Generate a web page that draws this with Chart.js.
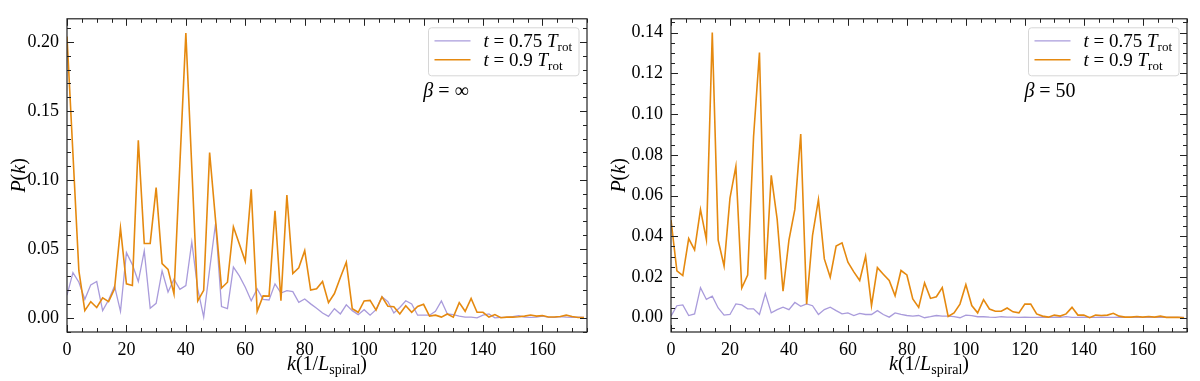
<!DOCTYPE html>
<html>
<head>
<meta charset="utf-8">
<script src="https://cdn.jsdelivr.net/npm/chart.js@4.4.1/dist/chart.umd.min.js"></script>
<style>
  html, body { margin: 0; padding: 0; background: #fff; }
  #wrap { position: relative; width: 1200px; height: 381px; overflow: hidden; }
  .panel { position: absolute; top: 0; width: 600px; height: 381px; }
</style>
</head>
<body>
<div id="wrap">
  <div class="panel" style="left:0"><canvas id="chartInf"></canvas></div>
  <div class="panel" style="left:600px"><canvas id="chart50"></canvas></div>
</div>
<script>
"use strict";

// wavenumber k (1/L_spiral)
const kValues = [
    0, 2, 4, 6, 8, 10, 12, 14, 16, 18, 20, 22, 24, 26, 28, 30, 32, 34, 36, 38,
    40, 42, 44, 46, 48, 50, 52, 54, 56, 58, 60, 62, 64, 66, 68, 70, 72, 74, 76, 78,
    80, 82, 84, 86, 88, 90, 92, 94, 96, 98, 100, 102, 104, 106, 108, 110, 112, 114, 116, 118,
    120, 122, 124, 126, 128, 130, 132, 134, 136, 138, 140, 142, 144, 146, 148, 150, 152, 154, 156, 158,
    160, 162, 164, 166, 168, 170, 172, 174
];

const timeLabels = ['0.75', '0.9'];
const betaLabels = ['\u221E', '50'];

// beta = inf
const infEarly = [
    0.0164, 0.0328, 0.0258, 0.0134, 0.0239, 0.0263, 0.0052, 0.0129, 0.0230, 0.0047,
    0.0473, 0.0386, 0.0263, 0.0485, 0.0070, 0.0105, 0.0340, 0.0187, 0.0281, 0.0206,
    0.0234, 0.0550, 0.0210, 0.0005, 0.0351, 0.0684, 0.0082, 0.0066, 0.0368, 0.0304,
    0.0222, 0.0124, 0.0210, 0.0134, 0.0129, 0.0246, 0.0180, 0.0197, 0.0190, 0.0112,
    0.0136, 0.0101, 0.0070, 0.0035, 0.0010, 0.0066, 0.0028, 0.0094, 0.0052, 0.0023,
    0.0059, 0.0019, 0.0059, 0.0152, 0.0117, 0.0035, 0.0075, 0.0124, 0.0100, 0.0019,
    0.0019, 0.0019, 0.0047, 0.0122, 0.0028, 0.0023, 0.0012, 0.0005, 0.0005, 0.0000,
    0.0019, 0.0028, 0.0000, 0.0003, 0.0003, 0.0008, 0.0016, 0.0005, 0.0003, 0.0005,
    0.0012, 0.0005, 0.0003, 0.0008, 0.0005, 0.0003, 0.0005, 0.0003
];
const infLate = [
    0.2040, 0.1190, 0.0340, 0.0052, 0.0117, 0.0075, 0.0145, 0.0117, 0.0210, 0.0650,
    0.0246, 0.0234, 0.1288, 0.0539, 0.0540, 0.0944, 0.0393, 0.0351, 0.0173, 0.1120,
    0.2065, 0.1090, 0.0122, 0.0199, 0.1199, 0.0707, 0.0216, 0.0258, 0.0660, 0.0535,
    0.0410, 0.0932, 0.0047, 0.0159, 0.0157, 0.0777, 0.0124, 0.0890, 0.0321, 0.0363,
    0.0487, 0.0201, 0.0210, 0.0263, 0.0110, 0.0176, 0.0293, 0.0403, 0.0066, 0.0040,
    0.0122, 0.0126, 0.0056, 0.0152, 0.0084, 0.0080, 0.0028, 0.0087, 0.0040, 0.0082,
    0.0098, 0.0012, 0.0019, 0.0005, 0.0028, 0.0005, 0.0110, 0.0047, 0.0140, 0.0040,
    0.0040, 0.0005, 0.0023, 0.0000, 0.0005, 0.0005, 0.0008, 0.0012, 0.0020, 0.0012,
    0.0016, 0.0006, 0.0006, 0.0010, 0.0019, 0.0010, 0.0002, 0.0002
];

// beta = 50
const b50Early = [
    0.0008, 0.0059, 0.0063, 0.0011, 0.0019, 0.0148, 0.0090, 0.0106, 0.0048, 0.0013,
    0.0016, 0.0068, 0.0063, 0.0044, 0.0044, 0.0016, 0.0119, 0.0024, 0.0040, 0.0052,
    0.0040, 0.0075, 0.0056, 0.0068, 0.0059, 0.0016, 0.0040, 0.0052, 0.0035, 0.0019,
    0.0024, 0.0011, 0.0021, 0.0016, 0.0016, 0.0035, 0.0016, 0.0003, 0.0024, 0.0016,
    0.0011, 0.0008, 0.0011, 0.0000, 0.0005, 0.0011, 0.0008, 0.0008, 0.0006, 0.0000,
    0.0013, 0.0010, 0.0005, 0.0005, 0.0003, 0.0002, 0.0005, 0.0003, 0.0003, 0.0002,
    0.0003, 0.0002, 0.0002, 0.0003, 0.0002, 0.0003, 0.0002, 0.0005, 0.0002, 0.0002,
    0.0003, 0.0002, 0.0002, 0.0003, 0.0002, 0.0002, 0.0003, 0.0002, 0.0002, 0.0002,
    0.0002, 0.0002, 0.0002, 0.0003, 0.0002, 0.0002, 0.0002, 0.0002
];
const b50Late = [
    0.0480, 0.0230, 0.0207, 0.0389, 0.0333, 0.0532, 0.0384, 0.1400, 0.0381, 0.0254,
    0.0587, 0.0743, 0.0146, 0.0210, 0.0889, 0.1302, 0.0188, 0.0699, 0.0484, 0.0130,
    0.0381, 0.0532, 0.0902, 0.0067, 0.0405, 0.0580, 0.0289, 0.0199, 0.0352, 0.0368,
    0.0273, 0.0225, 0.0183, 0.0302, 0.0060, 0.0246, 0.0214, 0.0183, 0.0108, 0.0232,
    0.0210, 0.0092, 0.0051, 0.0171, 0.0095, 0.0103, 0.0148, 0.0006, 0.0024, 0.0067,
    0.0163, 0.0060, 0.0024, 0.0089, 0.0043, 0.0032, 0.0032, 0.0048, 0.0029, 0.0024,
    0.0067, 0.0067, 0.0019, 0.0008, 0.0003, 0.0013, 0.0008, 0.0019, 0.0051, 0.0013,
    0.0013, 0.0000, 0.0013, 0.0011, 0.0013, 0.0022, 0.0008, 0.0003, 0.0003, 0.0006,
    0.0003, 0.0006, 0.0003, 0.0008, 0.0002, 0.0002, 0.0002, 0.0000
];

const SERIF = '"Liberation Serif", "DejaVu Serif", serif';
const EARLY_COLOR = '#a99bdb';
const LATE_COLOR = '#e5890f';

function fnt(size, italic) {
    return (italic ? 'italic ' : '') + size + 'px ' + SERIF;
}

// draws a run of [text, font, dy] parts; returns its width
function drawParts(ctx, parts, x, y, align) {
    let total = 0;
    parts.forEach(p => { ctx.font = p[1]; total += ctx.measureText(p[0]).width; });
    if (align !== 'measure') {
        let cx = align === 'center' ? x - total / 2 : x;
        parts.forEach(p => {
            ctx.font = p[1];
            ctx.fillText(p[0], cx, y + (p[2] || 0));
            cx += ctx.measureText(p[0]).width;
        });
    }
    return total;
}

function timeParts(t) {
    return [['t', fnt(19, true)], [' = ' + t + ' ', fnt(19)], ['T', fnt(19, true)], ['rot', fnt(13), 4]];
}

// frame, inward ticks, axis titles, legend and beta note
const decorPlugin = {
    id: 'decor',
    afterDraw(chart, args, opts) {
        const ctx = chart.ctx, a = chart.chartArea;
        const x = chart.scales.x, y = chart.scales.y;
        ctx.save();
        ctx.strokeStyle = '#222';
        ctx.lineWidth = 1;
        ctx.beginPath();
        const xMinorN = Math.floor(x.max / opts.xMinor + 1e-6);
        for (let i = 0; i <= xMinorN; i++) {
            const v = i * opts.xMinor;
            const px = Math.round(x.getPixelForValue(v)) + 0.5;
            const len = (Math.round(v) % opts.xMajor === 0) ? 7 : 4;
            ctx.moveTo(px, a.bottom); ctx.lineTo(px, a.bottom - len);
            ctx.moveTo(px, a.top); ctx.lineTo(px, a.top + len);
        }
        const yStart = Math.ceil(y.min / opts.yMinor - 1e-6);
        const yEnd = Math.floor(y.max / opts.yMinor + 1e-6);
        const ratio = Math.round(opts.yMajor / opts.yMinor);
        for (let i = yStart; i <= yEnd; i++) {
            const py = Math.round(y.getPixelForValue(i * opts.yMinor)) + 0.5;
            const len = (i % ratio === 0) ? 7 : 4;
            ctx.moveTo(a.left, py); ctx.lineTo(a.left + len, py);
            ctx.moveTo(a.right, py); ctx.lineTo(a.right - len, py);
        }
        ctx.stroke();
        ctx.lineWidth = 1.2;
        ctx.strokeRect(a.left, a.top, a.right - a.left, a.bottom - a.top);

        ctx.fillStyle = '#000';
        ctx.textBaseline = 'alphabetic';
        // x title
        drawParts(ctx, [['k', fnt(20, true)], ['(1/', fnt(20)], ['L', fnt(20, true)], ['spiral', fnt(14), 4], [')', fnt(20)]],
            (a.left + a.right) / 2, 370, 'center');
        // y title
        ctx.save();
        ctx.translate(25, (a.top + a.bottom) / 2);
        ctx.rotate(-Math.PI / 2);
        drawParts(ctx, [['P', fnt(20, true)], ['(', fnt(20)], ['k', fnt(20, true)], [')', fnt(20)]], 0, 0, 'center');
        ctx.restore();

        // legend box
        const ds = chart.data.datasets;
        let textW = 0;
        ds.forEach(d => { textW = Math.max(textW, drawParts(ctx, timeParts(d.timeLabel), 0, 0, 'measure')); });
        const boxW = 6 + 36 + 13 + textW + 7;
        const boxR = a.right - 8, boxL = boxR - boxW, boxT = a.top + 9, boxH = 48;
        ctx.beginPath();
        ctx.roundRect(boxL, boxT, boxW, boxH, 3);
        ctx.fillStyle = 'rgba(255,255,255,0.8)';
        ctx.fill();
        ctx.strokeStyle = '#d6d6d6';
        ctx.lineWidth = 1;
        ctx.stroke();
        ds.forEach((d, i) => {
            const ly = boxT + 13 + i * 19;
            ctx.beginPath();
            ctx.strokeStyle = d.borderColor;
            ctx.lineWidth = d.borderWidth;
            ctx.moveTo(boxL + 6, ly); ctx.lineTo(boxL + 42, ly);
            ctx.stroke();
            ctx.fillStyle = '#000';
            drawParts(ctx, timeParts(d.timeLabel), boxL + 55, ly + 6, 'left');
        });

        // beta note
        drawParts(ctx, [['\u03B2', fnt(20, true)], [' = ' + opts.beta, fnt(20)]], opts.betaX, 97, 'center');
        ctx.restore();
    }
};

function makeSpectrumChart(canvasId, early, late, yRange, yMajor, yMinor, beta, betaX, yWidth) {
    const ctx = document.getElementById(canvasId).getContext('2d');
    return new Chart(ctx, {
        type: 'line',
        data: {
            datasets: [{
                label: 't = ' + timeLabels[0] + ' Trot',
                timeLabel: timeLabels[0],
                data: kValues.map((k, i) => ({x: k, y: early[i]})),
                borderColor: EARLY_COLOR,
                borderWidth: 1.3,
                pointRadius: 0,
                tension: 0,
                order: 1
            }, {
                label: 't = ' + timeLabels[1] + ' Trot',
                timeLabel: timeLabels[1],
                data: kValues.map((k, i) => ({x: k, y: late[i]})),
                borderColor: LATE_COLOR,
                borderWidth: 1.6,
                pointRadius: 0,
                tension: 0,
                order: 0
            }]
        },
        plugins: [decorPlugin],
        options: {
            responsive: true,
            maintainAspectRatio: false,
            animation: false,
            events: [],
            layout: {padding: {top: 8, right: 13, left: 0, bottom: 0}},
            plugins: {
                legend: {display: false},
                tooltip: {enabled: false},
                decor: {xMajor: 20, xMinor: 5, yMajor: yMajor, yMinor: yMinor, beta: beta, betaX: betaX}
            },
            scales: {
                x: {
                    type: 'linear',
                    min: 0,
                    max: 175,
                    grid: {display: false, drawTicks: false},
                    border: {display: false},
                    afterFit: s => { s.height = 49; },
                    ticks: {
                        stepSize: 20,
                        includeBounds: false,
                        maxRotation: 0,
                        padding: 7,
                        color: '#000',
                        font: {family: SERIF, size: 18}
                    }
                },
                y: {
                    min: yRange[0],
                    max: yRange[1],
                    grid: {display: false, drawTicks: false},
                    border: {display: false},
                    afterFit: s => { s.width = yWidth; },
                    ticks: {
                        stepSize: yMajor,
                        includeBounds: false,
                        padding: 8,
                        color: '#000',
                        font: {family: SERIF, size: 18},
                        callback: v => v.toFixed(2)
                    }
                }
            }
        }
    });
}

makeSpectrumChart('chartInf', infEarly, infLate, [-0.0103, 0.2169], 0.05, 0.01, betaLabels[0], 446, 67);
makeSpectrumChart('chart50', b50Early, b50Late, [-0.0070, 0.1468], 0.02, 0.005, betaLabels[1], 450, 71);
</script>
</body>
</html>
